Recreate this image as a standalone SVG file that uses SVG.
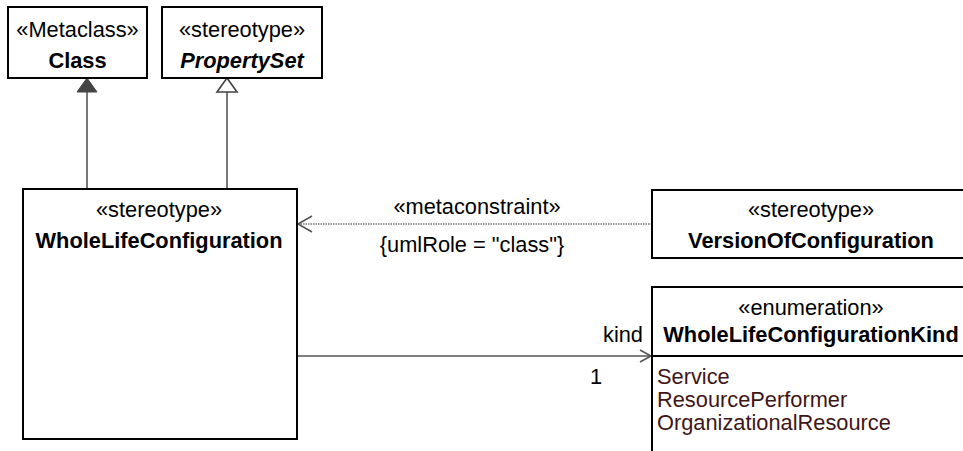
<svg xmlns="http://www.w3.org/2000/svg" width="963" height="451" viewBox="0 0 963 451">
<style>
.box{fill:#fff;stroke:#000;stroke-width:2}
text{font-family:"Liberation Sans",Arial,sans-serif;font-size:21.8px;fill:#000}
.c{text-anchor:middle}
.b{font-weight:bold}
.i{font-style:italic}
.lit{fill:#401515}
.ln{fill:none;stroke:#555;stroke-width:1.6}
.dot{fill:none;stroke:#777;stroke-width:1.5;stroke-dasharray:1.5 1}
</style>
<rect width="963" height="451" fill="#fff"/>
<g id="connectors">
<line class="ln" x1="87" y1="92" x2="87" y2="189"/>
<polygon points="87,78 77,92 97,92" fill="#444" stroke="#444" stroke-width="1"/>
<line class="ln" x1="227" y1="92" x2="227" y2="189"/>
<polygon points="227,78 217,92 237,92" fill="#fff" stroke="#444" stroke-width="1.6"/>
<line class="dot" x1="652" y1="224" x2="298" y2="224"/>
<polyline class="ln" points="312,216 298,224 312,232"/>
<text class="c" x="477" y="214">«metaconstraint»</text>
<text class="c" x="472" y="252">{umlRole = "class"}</text>
<line class="ln" x1="298" y1="356" x2="651" y2="356"/>
<polyline class="ln" points="640,350 651,356 640,362"/>
<text x="643" y="342" text-anchor="end">kind</text>
<text x="596" y="384" text-anchor="middle">1</text>
</g>
<g id="class">
<rect class="box" x="8" y="7" width="139" height="71"/>
<text class="c" x="77.5" y="37">«Metaclass»</text>
<text class="c b" x="77.5" y="68">Class</text>
</g>
<g id="propertyset">
<rect class="box" x="162" y="7" width="160" height="71"/>
<text class="c" x="242" y="37">«stereotype»</text>
<text class="c b i" x="242" y="68">PropertySet</text>
</g>
<g id="wholelifeconfiguration">
<rect class="box" x="23" y="189" width="274" height="250"/>
<text class="c" x="159" y="217">«stereotype»</text>
<text class="c b" x="159" y="248">WholeLifeConfiguration</text>
</g>
<g id="versionofconfiguration">
<rect class="box" x="652" y="190" width="320" height="68"/>
<text class="c" x="811" y="217">«stereotype»</text>
<text class="c b" x="811" y="248">VersionOfConfiguration</text>
</g>
<g id="wholelifeconfigurationkind">
<rect class="box" x="652" y="287" width="320" height="180"/>
<line x1="652" y1="356" x2="972" y2="356" stroke="#000" stroke-width="2"/>
<text class="c" x="811" y="315">«enumeration»</text>
<text class="c b" x="811" y="342">WholeLifeConfigurationKind</text>
<text class="lit" x="657" y="384">Service</text>
<text class="lit" x="657" y="407">ResourcePerformer</text>
<text class="lit" x="657" y="430">OrganizationalResource</text>
</g>
</svg>
